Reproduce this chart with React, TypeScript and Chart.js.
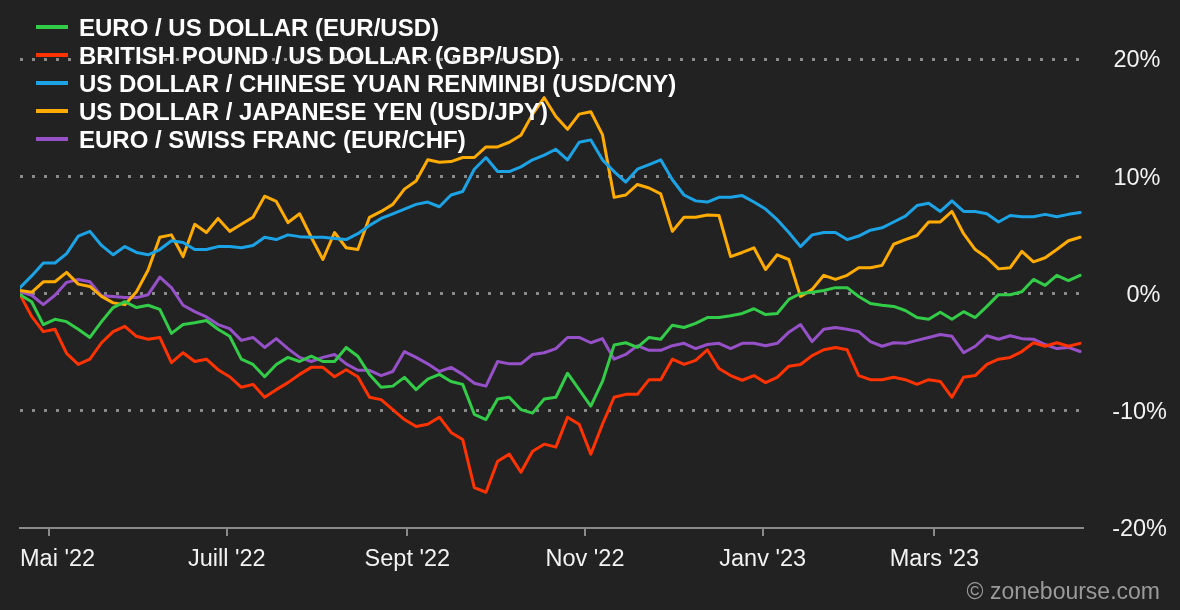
import React, { useEffect, useRef } from "react";
import { Chart, registerables } from "chart.js";

Chart.register(...registerables);

// x values: days since 1 May 2022
const DAYS = [
  -10, -6, -2, 2, 6, 10, 14, 18, 22, 26, 30, 34, 38, 42, 46, 50, 54, 58, 62, 66,
  70, 74, 78, 82, 86, 90, 94, 98, 102, 106, 110, 114, 118, 122, 126, 130, 134, 138, 142, 146,
  150, 154, 158, 162, 166, 170, 174, 178, 182, 186, 190, 194, 198, 202, 206, 210, 214, 218, 222, 226,
  230, 234, 238, 242, 246, 250, 254, 258, 262, 266, 270, 274, 278, 282, 286, 290, 294, 298, 302, 306,
  310, 314, 318, 322, 326, 330, 334, 338, 342, 346, 350, 354,
];

const EUR_USD = [
  -0.1, -0.7, -2.65, -2.2, -2.4, -3.05, -3.75, -2.4, -1.2, -0.7,
  -1.2, -1.0, -1.35, -3.4, -2.65, -2.5, -2.3, -3.05, -3.65, -5.6,
  -6.05, -7.1, -6.05, -5.45, -5.8, -5.35, -5.8, -5.8, -4.6, -5.35,
  -6.9, -8.0, -7.9, -7.15, -8.2, -7.3, -6.9, -7.5, -7.75, -10.3,
  -10.75, -9.0, -8.85, -9.9, -10.2, -9.0, -8.85, -6.8, -8.2, -9.6,
  -7.5, -4.4, -4.2, -4.6, -3.75, -3.9, -2.7, -2.9, -2.55, -2.05,
  -2.05, -1.9, -1.7, -1.3, -1.8, -1.7, -0.5, 0.0, 0.1, 0.25,
  0.5, 0.5, -0.25, -0.85, -1.0, -1.1, -1.45, -2.05, -2.2, -1.6,
  -2.2, -1.55, -2.05, -1.1, -0.1, -0.1, 0.15, 1.2, 0.7, 1.55,
  1.1, 1.55,
];

const GBP_USD = [
  -0.1, -1.95, -3.25, -3.05, -5.1, -6.05, -5.6, -4.2, -3.25, -2.8,
  -3.65, -3.9, -3.75, -5.9, -5.05, -5.8, -5.6, -6.5, -7.1, -8.0,
  -7.75, -8.85, -8.2, -7.6, -6.9, -6.3, -6.3, -7.1, -6.5, -7.1,
  -8.85, -9.05, -9.9, -10.75, -11.35, -11.15, -10.55, -11.85, -12.45, -16.55,
  -16.95, -14.3, -13.7, -15.25, -13.45, -12.85, -13.1, -10.55, -11.15, -13.7,
  -11.15, -8.85, -8.6, -8.6, -7.35, -7.35, -5.6, -6.05, -5.7, -4.8,
  -6.4, -7.0, -7.4, -7.0, -7.6, -7.15, -6.2, -6.05, -5.3, -4.8,
  -4.6, -4.8, -7.0, -7.35, -7.35, -7.15, -7.35, -7.75, -7.35, -7.5,
  -8.85, -7.15, -7.0, -6.05, -5.6, -5.45, -4.95, -4.2, -4.5, -4.2,
  -4.5, -4.25,
];

const USD_CNY = [
  0.5, 1.5, 2.6, 2.6, 3.4, 4.9, 5.3, 4.1, 3.3, 4.0,
  3.5, 3.3, 3.75, 4.5, 4.35, 3.75, 3.75, 4.0, 4.0, 3.9,
  4.1, 4.8, 4.6, 5.0, 4.85, 4.8, 4.8, 4.7, 4.6, 5.1,
  5.8, 6.4, 6.8, 7.2, 7.6, 7.8, 7.4, 8.4, 8.7, 10.6,
  11.6, 10.4, 10.4, 10.8, 11.4, 11.8, 12.3, 11.4, 12.9, 13.1,
  11.4, 10.4, 9.5, 10.6, 11.0, 11.4, 9.7, 8.4, 7.9, 7.8,
  8.2, 8.2, 8.35, 7.8, 7.2, 6.3, 5.2, 4.0, 5.0, 5.2,
  5.2, 4.6, 4.9, 5.4, 5.6, 6.1, 6.6, 7.5, 7.7, 7.0,
  7.9, 7.0, 7.0, 6.8, 6.1, 6.65, 6.55, 6.55, 6.75, 6.55,
  6.75, 6.9,
];

const USD_JPY = [
  0.25, 0.1, 1.0, 1.0, 1.8, 0.8, 0.6, -0.25, -0.8, -0.95,
  0.15, 2.0, 4.8, 5.0, 3.15, 5.9, 5.2, 6.4, 5.3, 5.9,
  6.5, 8.3, 7.85, 6.05, 6.8, 4.8, 2.9, 5.2, 3.9, 3.75,
  6.5, 7.0, 7.6, 8.9, 9.6, 11.4, 11.2, 11.25, 11.6, 11.6,
  12.5, 12.5, 12.9, 13.5, 15.3, 16.7, 15.1, 14.0, 15.3, 15.5,
  13.55, 8.2, 8.4, 9.3, 9.0, 8.5, 5.3, 6.5, 6.5, 6.7,
  6.65, 3.15, 3.5, 3.9, 2.05, 3.3, 2.9, -0.25, 0.35, 1.55,
  1.2, 1.55, 2.2, 2.2, 2.4, 4.2, 4.6, 4.95, 6.1, 6.1,
  7.0, 5.1, 3.75, 3.05, 2.1, 2.2, 3.6, 2.7, 3.05, 3.75,
  4.5, 4.8,
];

const EUR_CHF = [
  0.15, -0.15, -0.95, -0.15, 0.95, 1.2, 1.0, -0.2, -0.25, -0.35,
  -0.35, -0.1, 1.4, 0.5, -1.0, -1.55, -2.0, -2.65, -3.0, -4.0,
  -3.75, -4.6, -3.85, -4.7, -5.45, -5.8, -5.45, -5.2, -6.0, -6.55,
  -6.55, -7.0, -6.65, -4.95, -5.45, -6.0, -6.65, -6.3, -6.9, -7.65,
  -7.9, -5.8, -6.0, -6.0, -5.2, -5.05, -4.7, -3.75, -3.75, -4.2,
  -3.85, -5.6, -5.2, -4.45, -4.85, -4.85, -4.45, -4.25, -4.7, -4.35,
  -4.25, -4.7, -4.25, -4.25, -4.45, -4.25, -3.3, -2.65, -4.1, -3.05,
  -2.9, -3.05, -3.25, -4.1, -4.5, -4.2, -4.25, -4.0, -3.75, -3.5,
  -3.65, -5.05, -4.5, -3.6, -3.9, -3.6, -3.85, -3.9, -4.35, -4.7,
  -4.6, -4.95,
];

const SERIES_LABELS = [
  "EURO / US DOLLAR (EUR/USD)",
  "BRITISH POUND / US DOLLAR (GBP/USD)",
  "US DOLLAR / CHINESE YUAN RENMINBI (USD/CNY)",
  "US DOLLAR / JAPANESE YEN (USD/JPY)",
  "EURO / SWISS FRANC (EUR/CHF)",
];
const SERIES_VALUES = [EUR_USD, GBP_USD, USD_CNY, USD_JPY, EUR_CHF];
const SERIES_COLORS = ["#33cc48", "#ff3300", "#1ba3e6", "#ffab00", "#9650c8"];

const X_TICK_DAYS = [0, 61, 123, 184, 245, 304];
const X_TICK_LABELS = ["Mai '22", "Juill '22", "Sept '22", "Nov '22", "Janv '23", "Mars '23"];
const Y_TICKS = [-20, -10, 0, 10, 20];
const CREDIT = "© zonebourse.com";

const FONT = "'Liberation Sans', Arial, Helvetica, sans-serif";
const GRID_COLOR = "#8a8a8a";

const decorPlugin = {
  id: "decor",
  beforeDraw(chart: any) {
    const ctx = chart.ctx;
    ctx.save();
    ctx.fillStyle = "#222222";
    ctx.fillRect(0, 0, chart.width, chart.height);
    ctx.restore();
  },
  afterDraw(chart: any) {
    const ctx = chart.ctx;
    const area = chart.chartArea;
    const xs = chart.scales.x;
    ctx.save();
    // x labels (kept inside plot area like the reference)
    ctx.font = `23.5px ${FONT}`;
    ctx.fillStyle = "#f2f2f2";
    ctx.textBaseline = "alphabetic";
    ctx.textAlign = "left";
    X_TICK_DAYS.forEach((d, i) => {
      const x = xs.getPixelForValue(d);
      const w = ctx.measureText(X_TICK_LABELS[i]).width;
      const left = Math.min(Math.max(area.left, x - w / 2), area.right - w);
      ctx.fillText(X_TICK_LABELS[i], left, 566);
    });
    // credit
    ctx.font = `23px ${FONT}`;
    ctx.fillStyle = "#9a9a9a";
    ctx.textAlign = "right";
    ctx.fillText(CREDIT, 1160, 599);
    // legend
    ctx.textAlign = "left";
    ctx.font = `bold 24px ${FONT}`;
    chart.data.datasets.forEach((ds: any, i: number) => {
      const y = 27 + 28 * i;
      ctx.strokeStyle = ds.borderColor;
      ctx.lineWidth = 4;
      ctx.beginPath();
      ctx.moveTo(36, y);
      ctx.lineTo(68, y);
      ctx.stroke();
      ctx.fillStyle = "#ffffff";
      ctx.fillText(ds.label, 79, y + 8.6);
    });
    ctx.restore();
  },
};

export default function App() {
  const ref = useRef<HTMLCanvasElement | null>(null);

  useEffect(() => {
    if (!ref.current) return;
    const chart = new Chart(ref.current, {
      type: "line",
      data: {
        datasets: SERIES_VALUES.map((vals, i) => ({
          label: SERIES_LABELS[i],
          data: DAYS.map((d, j) => ({ x: d, y: vals[j] })),
          borderColor: SERIES_COLORS[i],
          backgroundColor: SERIES_COLORS[i],
          borderWidth: 3,
          pointRadius: 0,
          tension: 0,
          borderJoinStyle: "round",
          borderCapStyle: "round",
          fill: false,
        })),
      },
      options: {
        responsive: false,
        animation: false,
        events: [],
        layout: { padding: { top: 59, left: 20, right: 13, bottom: 0 } },
        plugins: {
          legend: { display: false },
          tooltip: { enabled: false },
        },
        scales: {
          x: {
            type: "linear",
            min: -10,
            max: 355,
            afterBuildTicks: (s: any) => {
              s.ticks = X_TICK_DAYS.map((v) => ({ value: v }));
            },
            afterFit: (s: any) => {
              s.height = 82;
            },
            ticks: { display: false },
            grid: {
              display: true,
              drawOnChartArea: false,
              drawTicks: true,
              tickLength: 8,
              color: GRID_COLOR,
              lineWidth: 2,
            },
            border: { display: true, color: GRID_COLOR, width: 2 },
          },
          y: {
            position: "right",
            min: -20,
            max: 20,
            afterBuildTicks: (s: any) => {
              s.ticks = Y_TICKS.map((v) => ({ value: v }));
            },
            afterFit: (s: any) => {
              s.width = 84;
            },
            ticks: {
              callback: (v: any) => (Number(v) < 0 ? `${v}%` : `${v}% `),
              color: "#f2f2f2",
              font: { family: FONT, size: 23.5 },
              padding: 16,
              labelOffset: 2,
              crossAlign: "far",
            },
            grid: {
              color: (c: any) => (c.tick && c.tick.value === -20 ? "rgba(0,0,0,0)" : GRID_COLOR),
              lineWidth: 3,
              drawTicks: false,
            },
            border: { display: false, dash: [3, 9] },
          },
        },
      } as any,
      plugins: [decorPlugin],
    });
    return () => chart.destroy();
  }, []);

  return (
    <div
      style={{
        position: "fixed",
        left: 0,
        top: 0,
        width: 1180,
        height: 610,
        background: "#222222",
      }}
    >
      <canvas ref={ref} width={1180} height={610} style={{ display: "block" }} />
    </div>
  );
}
